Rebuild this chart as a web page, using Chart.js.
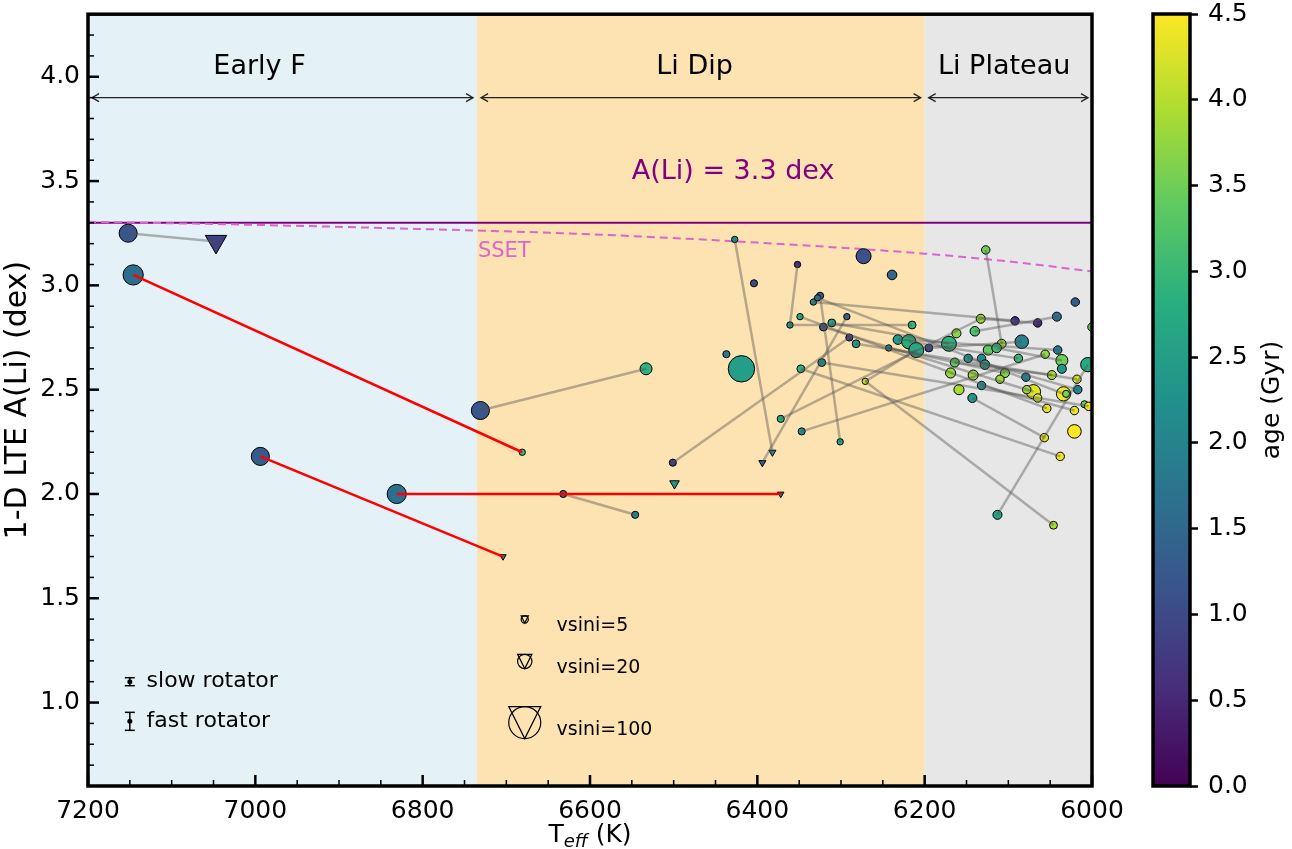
<!DOCTYPE html>
<html>
<head>
<meta charset="utf-8">
<script src="https://cdn.jsdelivr.net/npm/chart.js@4/dist/chart.umd.min.js"></script>
<style>
  html, body { margin: 0; padding: 0; background: #fff; }
  #wrap { position: relative; width: 1292px; height: 849px; }
  #main { position: absolute; left: 0; top: 0; }
  #cbar { position: absolute; left: 1140px; top: 0; }
</style>
</head>
<body>
<div id="wrap">
  <canvas id="main" width="1292" height="849"></canvas>
  <canvas id="cbar" width="152" height="849"></canvas>
</div>
<script>
// star measurements: Teff (K), A(Li) (dex), age (Gyr), vsini (km/s), upper limit flag
const teff = [7152, 7047, 7146, 6681, 6994, 6704, 6831, 6372, 6731, 6533,
  6632, 6546, 6501, 6499, 6437, 6419, 6427, 6382, 6394, 6273,
  6239, 6352, 6404, 6325, 6333, 6349, 6293, 6361, 6321, 6311,
  6290, 6282, 6232, 6219, 6210, 6243, 6195, 6348, 6323, 6271,
  6372, 6347, 6301, 6215, 6127, 6108, 6020, 6042, 6092, 6065,
  6133, 6162, 6140, 6171, 6084, 6124, 6114, 6041, 6036, 6036,
  6005, 6056, 6088, 6148, 6132, 6128, 6164, 6169, 6142, 6104,
  6110, 6079, 6048, 6018, 6132, 6159, 6070, 6078, 6065, 6034,
  6031, 6017, 6143, 6054, 6021, 6009, 6004, 6021, 6057, 6038,
  6113, 6046, 6000, 6328];
const ali = [3.25, 3.21, 3.05, 2.20, 2.18, 1.70, 2.00, 2.00, 2.40, 2.60,
  2.00, 1.90, 2.15, 2.05, 2.67, 2.60, 3.22, 2.20, 2.15, 3.14,
  3.05, 3.10, 3.01, 2.95, 2.92, 2.85, 2.85, 2.81, 2.80, 2.82,
  2.75, 2.72, 2.74, 2.73, 2.69, 2.70, 2.70, 2.60, 2.63, 2.54,
  2.36, 2.30, 2.25, 2.81, 3.17, 2.72, 2.92, 2.85, 2.83, 2.82,
  2.84, 2.77, 2.78, 2.72, 2.73, 2.69, 2.70, 2.69, 2.64, 2.60,
  2.62, 2.67, 2.65, 2.65, 2.65, 2.62, 2.63, 2.58, 2.57, 2.58,
  2.55, 2.56, 2.57, 2.55, 2.52, 2.50, 2.49, 2.50, 2.46, 2.48,
  2.48, 2.50, 2.46, 2.41, 2.40, 2.43, 2.42, 2.30, 2.27, 2.18,
  1.90, 1.85, 2.80, 2.94];
const age = [1.2, 0.85, 1.6, 3.0, 1.3, 2.0, 1.65, 1.5, 1.2, 2.9,
  1.4, 2.0, 0.8, 2.3, 1.8, 2.5, 2.2, 1.9, 1.3, 1.1,
  1.5, 0.6, 1.0, 1.3, 2.0, 2.8, 1.4, 2.3, 1.3, 2.6,
  0.8, 2.4, 2.4, 2.8, 2.7, 2.2, 1.0, 2.9, 2.3, 4.1,
  2.8, 2.2, 2.6, 3.0, 3.5, 3.8, 1.3, 1.6, 0.6, 0.5,
  3.8, 3.7, 3.2, 2.9, 2.0, 3.4, 3.0, 1.8, 3.5, 2.3,
  2.7, 3.8, 3.0, 2.3, 2.1, 2.5, 3.4, 3.8, 3.8, 3.7,
  3.8, 2.0, 3.9, 4.2, 2.3, 3.9, 4.3, 3.8, 4.3, 4.4,
  3.6, 2.0, 2.4, 4.3, 4.4, 3.4, 4.4, 4.5, 4.3, 4.4,
  2.6, 3.9, 3.5, 1.6];
const vsini = [32, 45, 40, 4, 32, 4, 36, 4, 32, 14,
  5, 5, 5, 9, 5, 68, 4, 5, 5, 22,
  9, 4, 5, 5, 4, 4, 4, 4, 6, 6,
  5, 6, 9, 20, 22, 4, 6, 6, 6, 4,
  5, 5, 4, 6, 7, 8, 7, 8, 7, 7,
  8, 8, 9, 22, 18, 10, 9, 7, 14, 8,
  20, 7, 7, 7, 7, 9, 8, 10, 10, 8,
  7, 7, 8, 7, 7, 10, 20, 7, 7, 20,
  5, 7, 8, 7, 7, 5, 7, 18, 7, 7,
  8, 6, 7, 4];
const upper = [0, 1, 0, 0, 0, 1, 0, 1, 0, 0,
  0, 0, 0, 1, 0, 0, 0, 1, 1, 0,
  0, 0, 0, 0, 0, 0, 0, 0, 0, 0,
  0, 0, 0, 0, 0, 0, 0, 0, 0, 0,
  0, 0, 0, 0, 0, 0, 0, 0, 0, 0,
  0, 0, 0, 0, 0, 0, 0, 0, 0, 0,
  0, 0, 0, 0, 0, 0, 0, 0, 0, 0,
  0, 0, 0, 0, 0, 0, 0, 0, 0, 0,
  0, 0, 0, 0, 0, 0, 0, 0, 0, 0,
  0, 0, 0, 0];

// same star, two measurements
const grayLinks = [[0, 1], [8, 9], [10, 11], [12, 30], [16, 17], [18, 26], [21, 27], [27, 43],
  [24, 48], [23, 42], [93, 79], [28, 76], [29, 53], [31, 73], [32, 57], [33, 62], [35, 69],
  [36, 54], [25, 83], [38, 86], [40, 50], [41, 61], [37, 89], [39, 34], [39, 91], [90, 60],
  [82, 88], [44, 45], [50, 49], [52, 47], [66, 72], [63, 81], [74, 84], [56, 58]];
const redLinks = [[2, 3], [4, 5], [6, 7]];

const regionEdges = [7200, 6735, 6200, 6000];
const regionNames = ['Early F', 'Li Dip', 'Li Plateau'];
const regionLabelTeff = [6995, 6475, 6105];
const regionFill = ['rgb(228,242,247)', 'rgb(253,227,178)', 'rgb(231,231,231)'];

const liRef = 3.3;
const ssetTeff = [7200, 7000, 6800, 6600, 6400, 6200, 6100, 6000];
const ssetALi = [3.305, 3.29, 3.27, 3.245, 3.205, 3.152, 3.115, 3.067];

const xTicks = [7200, 7000, 6800, 6600, 6400, 6200, 6000];
const yTicks = [1.0, 1.5, 2.0, 2.5, 3.0, 3.5, 4.0];
const ageTicks = [0, 0.5, 1.0, 1.5, 2.0, 2.5, 3.0, 3.5, 4.0, 4.5];

const vsiniLegend = [5, 20, 100];
const vsiniLegendALi = [1.398, 1.197, 0.904];

const ageCmap = ['#440154', '#472d7b', '#3b528b', '#2c728e', '#21918c', '#28ae80', '#5ec962', '#addc30', '#fde725'];
const AGE_MAX = 4.5;

Chart.defaults.font.family = "'DejaVu Sans', sans-serif";
Chart.defaults.color = '#000';

function hexRgb(h) { return [1, 3, 5].map(i => parseInt(h.substr(i, 2), 16)); }
function viridis(t) {
  t = Math.min(1, Math.max(0, t));
  const n = ageCmap.length - 1;
  const i = Math.min(n - 1, Math.floor(t * n));
  const f = t * n - i;
  const a = hexRgb(ageCmap[i]), b = hexRgb(ageCmap[i + 1]);
  return 'rgb(' + a.map((c, k) => Math.round(c + (b[k] - c) * f)).join(',') + ')';
}
function markerR(v) { return 1.6 * Math.sqrt(v); }

// drop the label overflow padding Chart.js adds so the plot box stays put
function noPad(s) { s.paddingTop = 0; s.paddingBottom = 0; s.paddingLeft = 0; s.paddingRight = 0; }

const points = teff.map((t, i) => ({ x: t, y: ali[i] }));

function linkSets(pairs, color, order) {
  return pairs.map(([i, j]) => ({
    type: 'line',
    data: [points[i], points[j]],
    borderColor: color,
    borderWidth: 2.5,
    pointRadius: 0,
    pointHoverRadius: 0,
    order: order
  }));
}

function line(ctx, x0, y0, x1, y1, w) {
  ctx.lineWidth = w;
  ctx.beginPath(); ctx.moveTo(x0, y0); ctx.lineTo(x1, y1); ctx.stroke();
}

function arrow(ctx, xa, xb, y) {
  const h = 7, s = 4;
  line(ctx, xa, y, xb, y, 1.3);
  ctx.beginPath();
  ctx.moveTo(xa + h, y - s); ctx.lineTo(xa, y); ctx.lineTo(xa + h, y + s);
  ctx.moveTo(xb - h, y - s); ctx.lineTo(xb, y); ctx.lineTo(xb - h, y + s);
  ctx.stroke();
}

const decor = {
  id: 'decor',
  beforeDatasetsDraw(chart) {
    const { ctx, chartArea: a, scales: { x } } = chart;
    ctx.save();
    for (let i = 0; i < regionNames.length; i++) {
      const x0 = x.getPixelForValue(regionEdges[i]);
      const x1 = x.getPixelForValue(regionEdges[i + 1]);
      ctx.fillStyle = regionFill[i];
      ctx.fillRect(x0, a.top, x1 - x0, a.bottom - a.top);
    }
    ctx.restore();
  },
  afterDatasetsDraw(chart) {
    const { ctx, chartArea: a, scales: { x, y } } = chart;
    ctx.save();
    ctx.strokeStyle = '#222';

    // region arrows and names
    const ya = y.getPixelForValue(3.9);
    for (let i = 0; i < regionNames.length; i++) {
      const x0 = x.getPixelForValue(regionEdges[i]) + 4;
      const x1 = x.getPixelForValue(regionEdges[i + 1]) - 4;
      arrow(ctx, x0, x1, ya);
      ctx.fillStyle = '#000';
      ctx.font = "27px 'DejaVu Sans'";
      ctx.textAlign = 'center';
      ctx.textBaseline = 'middle';
      ctx.fillText(regionNames[i], x.getPixelForValue(regionLabelTeff[i]), y.getPixelForValue(4.045));
    }

    ctx.fillStyle = 'purple';
    ctx.font = "27px 'DejaVu Sans'";
    ctx.fillText('A(Li) = 3.3 dex', x.getPixelForValue(6429), y.getPixelForValue(3.545));

    ctx.fillStyle = '#da66cc';
    ctx.font = "21px 'DejaVu Sans'";
    ctx.textAlign = 'left';
    ctx.fillText('SSET', x.getPixelForValue(6734), y.getPixelForValue(3.161));

    // vsini size legend
    ctx.strokeStyle = '#000';
    ctx.fillStyle = '#000';
    ctx.font = "19px 'DejaVu Sans'";
    vsiniLegend.forEach((v, i) => {
      const cx = x.getPixelForValue(6678), cy = y.getPixelForValue(vsiniLegendALi[i]);
      const r = markerR(v);
      ctx.lineWidth = 1.2;
      ctx.beginPath(); ctx.arc(cx, cy, r, 0, Math.PI * 2); ctx.stroke();
      ctx.beginPath();
      ctx.moveTo(cx - r, cy - r); ctx.lineTo(cx + r, cy - r); ctx.lineTo(cx, cy + r); ctx.closePath();
      ctx.stroke();
      ctx.textAlign = 'left';
      ctx.fillText('vsini=' + v, x.getPixelForValue(6640), cy + 7);
    });

    // rotator legend
    ctx.font = "22px 'DejaVu Sans'";
    [['slow rotator', 1.10, 4], ['fast rotator', 0.91, 9]].forEach(([label, v, half]) => {
      const cx = x.getPixelForValue(7150), cy = y.getPixelForValue(v);
      line(ctx, cx, cy - half, cx, cy + half, 1.5);
      line(ctx, cx - 5, cy - half, cx + 5, cy - half, 1.5);
      line(ctx, cx - 5, cy + half, cx + 5, cy + half, 1.5);
      ctx.beginPath(); ctx.arc(cx, cy, 2.5, 0, Math.PI * 2); ctx.fill();
      ctx.fillText(label, x.getPixelForValue(7130), cy);
    });

    // inward ticks
    ctx.strokeStyle = '#000';
    xTicks.forEach(v => {
      const px = x.getPixelForValue(v);
      line(ctx, px, a.bottom, px, a.bottom - 11, 2.5);
    });
    for (let v = 6050; v < 7200; v += 50) {
      if (v % 200 === 0) continue;
      const px = x.getPixelForValue(v);
      line(ctx, px, a.bottom, px, a.bottom - 6, 1.5);
    }
    yTicks.forEach(v => {
      const py = y.getPixelForValue(v);
      line(ctx, a.left, py, a.left + 11, py, 2.5);
    });
    for (let k = 6; k <= 43; k++) {
      if (k % 5 === 0) continue;
      const py = y.getPixelForValue(k / 10);
      line(ctx, a.left, py, a.left + 6, py, 1.5);
    }

    // frame
    ctx.lineWidth = 3.5;
    ctx.strokeRect(a.left, a.top, a.right - a.left, a.bottom - a.top);
    ctx.restore();
  },
  afterDraw(chart) {
    const { ctx, chartArea: a } = chart;
    ctx.save();
    ctx.fillStyle = '#000';
    ctx.textBaseline = 'alphabetic';
    ctx.textAlign = 'left';
    const big = "25px 'DejaVu Sans'", sub = "italic 18px 'DejaVu Sans'";
    ctx.font = big; const wT = ctx.measureText('T').width; const wK = ctx.measureText(' (K)').width;
    ctx.font = sub; const wS = ctx.measureText('eff').width;
    let cx = (a.left + a.right) / 2 - (wT + wS + wK) / 2;
    const base = 842;
    ctx.font = big; ctx.fillText('T', cx, base); cx += wT;
    ctx.font = sub; ctx.fillText('eff', cx, base + 5); cx += wS;
    ctx.font = big; ctx.fillText(' (K)', cx, base);
    ctx.restore();
  }
};

new Chart(document.getElementById('main'), {
  type: 'scatter',
  data: {
    datasets: [
      {
        type: 'line',
        data: [{ x: 7200, y: liRef }, { x: 6000, y: liRef }],
        borderColor: 'purple', borderWidth: 2, pointRadius: 0, order: 9
      },
      {
        type: 'line',
        data: ssetTeff.map((t, i) => ({ x: t, y: ssetALi[i] })),
        borderColor: '#da66cc', borderWidth: 2, borderDash: [8, 5],
        cubicInterpolationMode: 'monotone', pointRadius: 0, order: 8
      },
      {
        data: points,
        order: 5,
        pointStyle: upper.map(u => u ? 'triangle' : 'circle'),
        pointRotation: upper.map(u => u ? 180 : 0),
        pointRadius: vsini.map((v, i) => markerR(v) * (upper[i] ? 1.15 : 1)),
        pointHoverRadius: vsini.map((v, i) => markerR(v) * (upper[i] ? 1.15 : 1)),
        pointBackgroundColor: age.map(g => viridis(g / AGE_MAX)),
        pointBorderColor: '#000',
        pointBorderWidth: 1
      },
      ...linkSets(grayLinks, 'rgba(80,80,80,0.42)', 2),
      ...linkSets(redLinks, 'rgb(255,0,0)', 1)
    ]
  },
  options: {
    responsive: false,
    animation: false,
    events: [],
    layout: { padding: { left: 0, top: 14, right: 200, bottom: 0 } },
    plugins: { legend: { display: false }, tooltip: { enabled: false } },
    scales: {
      x: {
        type: 'linear', reverse: true, min: 6000, max: 7200,
        afterBuildTicks: s => { s.ticks = xTicks.map(v => ({ value: v })); },
        afterFit: s => { s.height = 63; noPad(s); },
        grid: { display: false, drawTicks: false },
        border: { display: false },
        ticks: { font: { size: 25 }, color: '#000', padding: 10, maxRotation: 0, autoSkip: false, callback: v => String(v) }
      },
      y: {
        min: 0.6, max: 4.3,
        afterBuildTicks: s => { s.ticks = yTicks.map(v => ({ value: v })); },
        afterFit: s => { s.width = 88; noPad(s); },
        grid: { display: false, drawTicks: false },
        border: { display: false },
        ticks: { font: { size: 25 }, color: '#000', padding: 8, callback: v => v.toFixed(1) },
        title: { display: true, text: '1-D LTE A(Li) (dex)', font: { size: 30 }, color: '#000', padding: { top: 0, bottom: 0 } }
      }
    }
  },
  plugins: [decor]
});

const cbarDraw = {
  id: 'cbarDraw',
  beforeDatasetsDraw(chart) {
    const { ctx, chartArea: a, scales: { y } } = chart;
    ctx.save();
    const g = ctx.createLinearGradient(0, y.getPixelForValue(0), 0, y.getPixelForValue(AGE_MAX));
    ageCmap.forEach((c, i) => g.addColorStop(i / (ageCmap.length - 1), c));
    ctx.fillStyle = g;
    ctx.fillRect(a.left, a.top, a.right - a.left, a.bottom - a.top);
    ctx.lineWidth = 3.5;
    ctx.strokeStyle = '#000';
    ctx.strokeRect(a.left, a.top, a.right - a.left, a.bottom - a.top);
    ctx.translate(132, (a.top + a.bottom) / 2);
    ctx.rotate(-Math.PI / 2);
    ctx.fillStyle = '#000';
    ctx.font = "25px 'DejaVu Sans'";
    ctx.textAlign = 'center';
    ctx.textBaseline = 'middle';
    ctx.fillText('age (Gyr)', 0, 0);
    ctx.restore();
  }
};

new Chart(document.getElementById('cbar'), {
  type: 'scatter',
  data: { datasets: [] },
  options: {
    responsive: false,
    animation: false,
    events: [],
    layout: { padding: { left: 13, top: 14, right: 0, bottom: 63 } },
    plugins: { legend: { display: false }, tooltip: { enabled: false } },
    scales: {
      x: { display: false, min: 0, max: 1 },
      y: {
        position: 'right', min: 0, max: AGE_MAX,
        afterBuildTicks: s => { s.ticks = ageTicks.map(v => ({ value: v })); },
        afterFit: s => { s.width = 102; noPad(s); },
        grid: { drawOnChartArea: false, drawTicks: true, tickLength: 8, tickWidth: 2.5, tickColor: '#000' },
        border: { display: false },
        ticks: { font: { size: 25 }, color: '#000', padding: 10, callback: v => v.toFixed(1) }
      }
    }
  },
  plugins: [cbarDraw]
});
</script>
</body>
</html>
